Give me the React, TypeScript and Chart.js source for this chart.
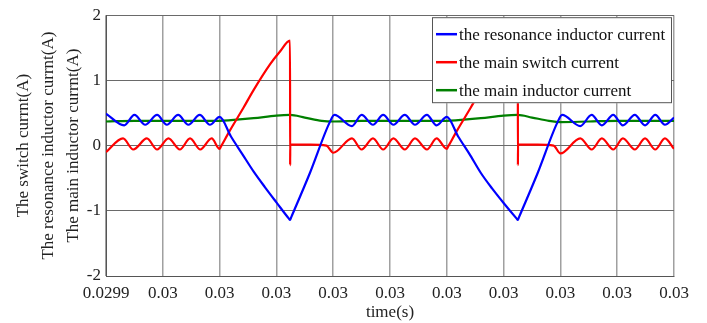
import { useEffect, useRef } from "react";
import { Chart, registerables } from "chart.js";

Chart.register(...registerables);

// x axis is in tick-interval units (0 .. 10), labelled as in the original figure
const xTickLabels = ["0.0299", "0.03", "0.03", "0.03", "0.03", "0.03", "0.03", "0.03", "0.03", "0.03", "0.03"];
const yTitleLines = ["The switch currnt(A)", "The resonance inductor currnt(A)", "The main inductor currnt(A)"];
const seriesNames = ["the resonance inductor current", "the main switch current", "the main inductor current"];
const seriesColors = ["rgb(0,0,255)", "rgb(255,0,0)", "rgb(0,128,0)"];

// the resonance inductor current
const resonanceT = [
  0, 0.32, 0.5, 0.69, 0.9, 1.07, 1.27, 1.45, 1.65, 1.83, 2.0,
  2.2, 2.4, 2.6, 2.8, 3.0, 3.22, 3.24, 3.26, 3.59, 3.94, 4.02,
  4.33, 4.5, 4.7, 4.88, 5.06, 5.26, 5.44, 5.65, 5.82, 6.0,
  6.2, 6.4, 6.6, 6.8, 7.0, 7.23, 7.25, 7.27, 7.6, 7.95, 8.03,
  8.35, 8.55, 8.73, 8.93, 9.1, 9.31, 9.49, 9.67, 9.84, 10.0,
];
const resonanceI = [
  0.49, 0.31, 0.47, 0.32, 0.47, 0.32, 0.47, 0.32, 0.47, 0.32, 0.44,
  0.14, -0.13, -0.4, -0.64, -0.87, -1.12, -1.14, -1.1, -0.42, 0.36, 0.47,
  0.3, 0.47, 0.32, 0.47, 0.32, 0.47, 0.32, 0.47, 0.31, 0.44,
  0.14, -0.13, -0.42, -0.66, -0.88, -1.12, -1.14, -1.1, -0.42, 0.36, 0.47,
  0.3, 0.47, 0.31, 0.47, 0.31, 0.47, 0.31, 0.47, 0.32, 0.43,
];

// the main switch current
const switchT = [
  0, 0.3, 0.48, 0.72, 0.9, 1.1, 1.3, 1.48, 1.66, 1.86, 2.0, 2.02,
  2.18, 2.42, 2.59, 2.89, 3.06, 3.24, 3.242, 3.244, 3.6, 3.88, 4.0,
  4.33, 4.5, 4.7, 4.88, 5.06, 5.26, 5.44, 5.65, 5.82, 6.0, 6.02,
  6.18, 6.42, 6.59, 6.89, 7.06, 7.25, 7.252, 7.254, 7.6, 7.88, 8.0,
  8.35, 8.55, 8.73, 8.93, 9.1, 9.31, 9.49, 9.67, 9.84, 10.0,
];
const switchI = [
  -0.1, 0.11, -0.06, 0.11, -0.06, 0.11, -0.06, 0.11, -0.06, 0.11, -0.05, -0.02,
  0.23, 0.58, 0.84, 1.25, 1.44, 1.61, -0.3, 0.015, 0.015, 0.0, -0.11,
  0.11, -0.06, 0.11, -0.06, 0.11, -0.06, 0.11, -0.06, 0.11, -0.05, -0.02,
  0.23, 0.58, 0.84, 1.25, 1.44, 1.61, -0.3, 0.015, 0.015, 0.0, -0.12,
  0.11, -0.06, 0.11, -0.06, 0.11, -0.06, 0.11, -0.06, 0.11, -0.05,
];

// the main inductor current
const inductorT = [
  0, 0.5, 1.0, 1.5, 2.0, 2.2, 2.6, 3.0, 3.24, 3.5, 3.8, 4.0,
  4.5, 5.0, 5.5, 6.0, 6.2, 6.6, 7.0, 7.25, 7.5, 7.8, 8.0,
  8.5, 9.0, 9.5, 10.0,
];
const inductorI = [
  0.37, 0.38, 0.38, 0.38, 0.38, 0.39, 0.42, 0.46, 0.47, 0.43, 0.38, 0.37,
  0.38, 0.38, 0.38, 0.38, 0.39, 0.42, 0.46, 0.47, 0.43, 0.38, 0.36,
  0.37, 0.38, 0.38, 0.38,
];

const FONT = "'Liberation Serif', 'Times New Roman', serif";

const toPoints = (t: number[], v: number[]) => t.map((x, i) => ({ x, y: v[i] }));

const boxLegend = {
  id: "boxLegend",
  afterDatasetsDraw(chart: any) {
    const { ctx, chartArea } = chart;
    const w = 240;
    const h = 86;
    const x0 = chartArea.right - 2 - w;
    const y0 = chartArea.top + 2;
    ctx.save();
    ctx.fillStyle = "#ffffff";
    ctx.fillRect(x0, y0, w, h);
    ctx.strokeStyle = "#555555";
    ctx.lineWidth = 1;
    ctx.strokeRect(x0 + 0.5, y0 + 0.5, w - 1, h - 1);
    ctx.font = `17px ${FONT}`;
    ctx.textBaseline = "middle";
    ctx.textAlign = "left";
    chart.data.datasets.forEach((ds: any, i: number) => {
      const y = y0 + 17 + i * 28;
      ctx.strokeStyle = ds.borderColor;
      ctx.lineWidth = 2.5;
      ctx.beginPath();
      ctx.moveTo(x0 + 4, y);
      ctx.lineTo(x0 + 25, y);
      ctx.stroke();
      ctx.fillStyle = "#111111";
      ctx.fillText(ds.label, x0 + 27, y + 1);
    });
    ctx.restore();
  },
};

export default function App() {
  const ref = useRef<HTMLCanvasElement | null>(null);

  useEffect(() => {
    if (!ref.current) return;
    const chart = new Chart(ref.current, {
      type: "line",
      data: {
        datasets: [
          { label: seriesNames[0], data: toPoints(resonanceT, resonanceI), borderColor: seriesColors[0] },
          { label: seriesNames[1], data: toPoints(switchT, switchI), borderColor: seriesColors[1] },
          { label: seriesNames[2], data: toPoints(inductorT, inductorI), borderColor: seriesColors[2] },
        ].map((d) => ({
          ...d,
          borderWidth: 2.2,
          pointRadius: 0,
          fill: false,
          cubicInterpolationMode: "monotone" as const,
        })),
      },
      options: {
        animation: false,
        responsive: false,
        layout: { padding: { left: 0, top: 13, right: 33, bottom: 0 } },
        plugins: { legend: { display: false }, tooltip: { enabled: false } },
        scales: {
          x: {
            type: "linear",
            min: 0,
            max: 10,
            afterFit: (s: any) => { s.height = 47; },
            ticks: {
              stepSize: 1,
              padding: 7,
              color: "#222",
              font: { family: FONT, size: 17 },
              maxRotation: 0,
              autoSkip: false,
              callback: (v: any) => xTickLabels[Math.round(Number(v))],
            },
            grid: { color: "#a0a0a0", lineWidth: 1.5, drawTicks: false },
            border: { color: "#555", width: 1 },
            title: {
              display: true,
              text: "time(s)",
              color: "#222",
              font: { family: FONT, size: 17 },
              padding: { top: 0, bottom: 0 },
            },
          },
          y: {
            min: -2,
            max: 2,
            afterFit: (s: any) => { s.width = 106; },
            ticks: {
              stepSize: 1,
              padding: 5,
              color: "#222",
              font: { family: FONT, size: 17 },
            },
            grid: { color: "#6a6a6a", lineWidth: 1, drawTicks: false },
            border: { color: "#555", width: 1 },
            title: {
              display: true,
              text: yTitleLines,
              color: "#222",
              font: { family: FONT, size: 17, lineHeight: "25px" },
              padding: { top: 11, bottom: 0 },
            },
          },
        },
      },
      plugins: [boxLegend],
    });
    return () => chart.destroy();
  }, []);

  return (
    <div style={{ position: "absolute", left: 0, top: 0, width: 707, height: 323, background: "#fff" }}>
      <canvas ref={ref} width={707} height={323} style={{ width: 707, height: 323, display: "block" }} />
    </div>
  );
}
